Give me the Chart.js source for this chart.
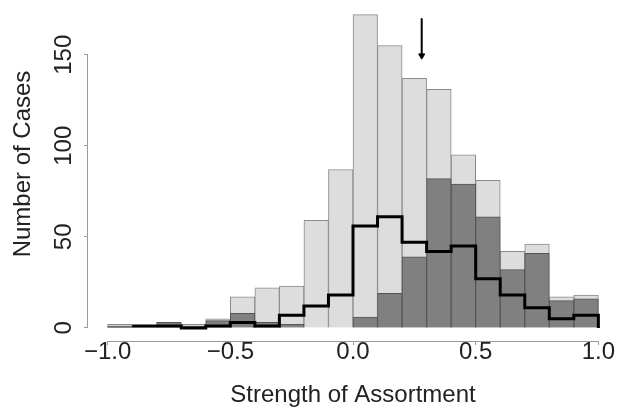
<!DOCTYPE html>
<html>
<head>
<meta charset="utf-8">
<script src="https://cdn.jsdelivr.net/npm/chart.js@4.4.0/dist/chart.umd.min.js"></script>
<style>
  body { margin: 0; background: #fff; overflow: hidden; }
  #wrap { width: 618px; height: 410px; overflow: hidden; }
  /* plot region of the original figure starts a little above the visible area */
  #histChart { display: block; margin-top: -13px; }
</style>
</head>
<body>
<div id="wrap"><canvas id="histChart" width="618" height="423"></canvas></div>
<script>
// histogram bins, width 0.1 (left edges)
const binLeft = [-1.0, -0.9, -0.8, -0.7, -0.6, -0.5, -0.4, -0.3, -0.2, -0.1,
                  0.0,  0.1,  0.2,  0.3,  0.4,  0.5,  0.6,  0.7,  0.8,  0.9];
const binWidth = 0.1;
// light grey: all cases, dark grey: subset, black step line: other distribution
const allCounts    = [2, 1, 3, 2, 5, 17, 22, 23, 59, 87, 172, 155, 137, 131, 95, 81, 42, 46, 17, 18];
const subsetCounts = [1, 0, 3, 1, 4,  8,  3,  2,  0,  0,   6,  19,  39,  82, 79, 61, 32, 41, 15, 16];
const lineCounts   = [null, 1, 1, 0, 1, 3, 1, 7, 12, 18, 56, 61, 47, 42, 45, 27, 18, 11, 5, 7];

const xTicks = [-1, -0.5, 0, 0.5, 1];
const xTickLabels = ['\u22121.0', '\u22120.5', '0.0', '0.5', '1.0'];
const yTicks = [0, 50, 100, 150];
const yTickLabels = ['0', '50', '100', '150'];

// arrow marking the mean (x, from y, to y)
const arrowX = 0.28;
const arrowY = [170, 149.5];

const font = 'Liberation Sans, Arial, Helvetica, sans-serif';

// R-style axis lines: only over the range of the ticks
const rAxes = {
  id: 'rAxes',
  afterDraw(chart) {
    const { ctx, scales: { x, y } } = chart;
    ctx.save();
    ctx.strokeStyle = '#9a9a9a';
    ctx.lineWidth = 1;
    ctx.beginPath();
    const ax = Math.round(y.right) - 0.5;
    ctx.moveTo(ax, y.getPixelForValue(yTicks[0]));
    ctx.lineTo(ax, y.getPixelForValue(yTicks[yTicks.length - 1]));
    const ay = Math.round(x.top) + 0.5;
    ctx.moveTo(x.getPixelForValue(xTicks[0]), ay);
    ctx.lineTo(x.getPixelForValue(xTicks[xTicks.length - 1]), ay);
    ctx.stroke();
    ctx.restore();
  }
};

const barPoints = (arr) => binLeft.map((b, i) => ({ x: b + binWidth / 2, y: arr[i] }));
const linePoints = binLeft.map((b, i) => ({ x: b, y: lineCounts[i] }));
linePoints.push({ x: binLeft[binLeft.length - 1] + binWidth, y: 0 });

const ctx = document.getElementById('histChart').getContext('2d');
new Chart(ctx, {
  type: 'bar',
  data: {
    datasets: [
      {
        type: 'line',
        data: [{ x: arrowX, y: arrowY[0] }, { x: arrowX, y: arrowY[1] }],
        borderColor: '#000',
        borderWidth: 2,
        pointRadius: [0, 3.5],
        pointStyle: 'triangle',
        pointRotation: 180,
        pointBackgroundColor: '#000',
        pointBorderColor: '#000',
        pointBorderWidth: 1,
        order: 1
      },
      {
        type: 'line',
        data: linePoints,
        stepped: 'before',
        borderColor: '#000',
        borderWidth: 3,
        pointRadius: 0,
        fill: false,
        order: 2
      },
      {
        data: barPoints(subsetCounts),
        backgroundColor: '#808080',
        borderColor: '#555555',
        borderWidth: 1,
        grouped: false,
        barPercentage: 1,
        categoryPercentage: 1,
        order: 3
      },
      {
        data: barPoints(allCounts),
        backgroundColor: '#dddddd',
        borderColor: '#8a8a8a',
        borderWidth: 1,
        grouped: false,
        barPercentage: 1,
        categoryPercentage: 1,
        order: 4
      }
    ]
  },
  options: {
    responsive: false,
    animation: false,
    layout: { padding: 0, autoPadding: false },
    plugins: { legend: { display: false }, tooltip: { enabled: false } },
    scales: {
      x: {
        type: 'linear',
        offset: false,
        min: -1.08,
        max: 1.08,
        afterBuildTicks: (s) => { s.ticks = xTicks.map(v => ({ value: v })); },
        afterFit: (s) => { s.height = 69; s.paddingLeft = 0; s.paddingRight = 0; },
        grid: { offset: false, drawOnChartArea: false, drawTicks: true, tickLength: 4, color: '#9a9a9a' },
        border: { display: false },
        ticks: {
          autoSkip: false,
          maxRotation: 0,
          padding: -7,
          color: '#222',
          font: { family: font, size: 24 },
          callback: (v, i) => xTickLabels[i]
        },
        title: {
          display: true,
          text: 'Strength of Assortment',
          color: '#222',
          font: { family: font, size: 24 },
          padding: 0
        }
      },
      y: {
        min: -7.2,
        max: 187.2,
        afterBuildTicks: (s) => { s.ticks = yTicks.map(v => ({ value: v })); },
        afterFit: (s) => { s.width = 88; s.paddingTop = 0; s.paddingBottom = 0; },
        grid: { drawOnChartArea: false, drawTicks: true, tickLength: 4, color: '#9a9a9a' },
        border: { display: false },
        ticks: {
          autoSkip: false,
          minRotation: 90,
          maxRotation: 90,
          crossAlign: 'center',
          padding: 0,
          color: '#222',
          font: { family: font, size: 24 },
          callback: (v, i) => yTickLabels[i]
        },
        title: {
          display: true,
          text: 'Number of Cases',
          color: '#222',
          font: { family: font, size: 24 },
          padding: { top: 9, bottom: 0 }
        }
      }
    }
  },
  plugins: [rAxes]
});
</script>
</body>
</html>
